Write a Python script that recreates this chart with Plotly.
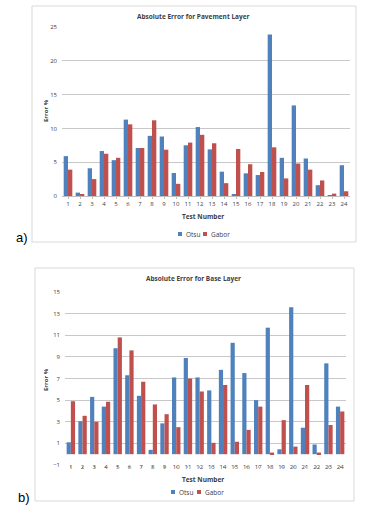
import plotly.graph_objects as go

tests = list(range(1, 25))

pave_otsu = [5.9, 0.5, 4.1, 6.65, 5.3, 11.3, 7.1, 8.9, 8.8, 3.4, 7.5, 10.2,
             6.9, 3.6, 0.25, 3.35, 3.1, 23.9, 5.65, 13.4, 5.55, 1.6, 0.05, 4.55]
pave_gabor = [3.9, 0.15, 2.5, 6.25, 5.65, 10.6, 7.1, 11.2, 6.85, 1.8, 7.9, 9.05,
              7.8, 1.9, 6.95, 4.7, 3.55, 7.2, 2.6, 4.8, 3.9, 2.3, 0.35, 0.7]

base_otsu = [1.1, 3.05, 5.3, 4.4, 9.8, 7.3, 5.4, 0.4, 2.85, 7.1, 8.9, 7.1,
             5.9, 7.8, 10.3, 7.5, 5.0, 11.7, 0.45, 13.6, 2.45, 0.9, 8.4, 4.4]
base_gabor = [4.9, 3.55, 3.0, 4.85, 10.8, 9.6, 6.7, 4.6, 3.7, 2.5, 7.0, 5.8,
              1.05, 6.4, 1.15, 2.25, 4.4, 0.15, 3.15, 0.7, 6.4, 0.15, 2.7, 3.95]

series_names = ["Otsu", "Gabor"]
titles = ["Absolute Error for Pavement Layer", "Absolute Error for Base Layer"]

BLUE = "#4f81bd"
RED = "#c0504d"
W, H = 385, 518
FONT = "Open Sans"
TXT = "#404040"

def px(x):
    return x / W

def py(y):
    return 1 - y / H

fig = go.Figure()
fig.add_trace(go.Bar(x=tests, y=pave_otsu, name=series_names[0], marker_color=BLUE,
                     xaxis="x", yaxis="y", marker_line_width=0, showlegend=False))
fig.add_trace(go.Bar(x=tests, y=pave_gabor, name=series_names[1], marker_color=RED,
                     xaxis="x", yaxis="y", marker_line_width=0, showlegend=False))
fig.add_trace(go.Bar(x=tests, y=base_otsu, name=series_names[0], marker_color=BLUE,
                     xaxis="x2", yaxis="y2", marker_line_width=0, showlegend=False))
fig.add_trace(go.Bar(x=tests, y=base_gabor, name=series_names[1], marker_color=RED,
                     xaxis="x2", yaxis="y2", marker_line_width=0, showlegend=False))

tickfont = dict(family=FONT, size=6, color=TXT)
grid = "#c8c8c8"

shapes = [
    dict(type="rect", xref="paper", yref="paper", x0=px(32), x1=px(356), y0=py(242), y1=py(6),
         line=dict(color="#d9d9d9", width=1), layer="below"),
    dict(type="rect", xref="paper", yref="paper", x0=px(35), x1=px(354), y0=py(501), y1=py(268),
         line=dict(color="#d9d9d9", width=1), layer="below"),
]

ann = []
def text(t, x, y, size=6.5, xanchor="center", **kw):
    d = dict(text=t, x=px(x), y=py(y), xref="paper", yref="paper", showarrow=False,
             xanchor=xanchor, yanchor="middle", font=dict(family=FONT, size=size, color=TXT))
    d.update(kw)
    ann.append(d)

text("<b>" + titles[0] + "</b>", 194, 16)
text("<b>" + titles[1] + "</b>", 194, 278)
text("<b>Test Number</b>", 203, 217)
text("<b>Test Number</b>", 203, 479)
text("<b>Error %</b>", 46, 111, size=6, textangle=-90)
text("<b>Error %</b>", 46, 380, size=6, textangle=-90)
ann.append(dict(text="a)", x=px(14), y=py(238), xref="paper", yref="paper", showarrow=False,
                xanchor="left", yanchor="middle", font=dict(family="Liberation Sans", size=13, color="black")))
ann.append(dict(text="b)", x=px(16), y=py(497), xref="paper", yref="paper", showarrow=False,
                xanchor="left", yanchor="middle", font=dict(family="Liberation Sans", size=13, color="black")))

# manual legends (small square markers + text)
def legend(xb, xr, y):
    for xs, col, name in ((xb, BLUE, series_names[0]), (xr, RED, series_names[1])):
        shapes.append(dict(type="rect", xref="paper", yref="paper", x0=px(xs - 2), x1=px(xs + 2),
                           y0=py(y + 2), y1=py(y - 2), fillcolor=col, line=dict(width=0)))
        text(name, xs + 3.5, y, size=6.5, xanchor="left")

legend(180, 205, 234)
legend(173, 199, 492)

fig.update_layout(
    width=W, height=H,
    margin=dict(l=0, r=0, t=0, b=0),
    paper_bgcolor="white", plot_bgcolor="white",
    barmode="group", bargap=0.28, bargroupgap=0.0,
    font=dict(family=FONT),
    showlegend=False,
    xaxis=dict(domain=[px(62), px(350)], anchor="y", range=[0.5, 24.5],
               tickvals=tests, ticktext=[str(t) for t in tests], tickfont=tickfont,
               showgrid=False, showline=True, linecolor="#bfbfbf", linewidth=1,
               ticks="outside", ticklen=2, tickcolor="#bfbfbf", zeroline=False,
               automargin=False),
    yaxis=dict(domain=[py(196), py(27)], anchor="x", range=[0, 25], dtick=5,
               tickfont=tickfont, showgrid=True, gridcolor=grid, gridwidth=1,
               zeroline=False, showline=False, ticks="", ticklabelstandoff=4,
               automargin=False),
    xaxis2=dict(domain=[px(65), px(346)], anchor="y2", range=[0.5, 24.5],
                tickvals=tests, ticktext=[str(t) for t in tests], tickfont=tickfont,
                showgrid=False, showline=False, ticks="outside", ticklen=2,
                tickcolor="#bfbfbf", zeroline=False, ticklabelstandoff=-6,
                automargin=False),
    yaxis2=dict(domain=[py(465), py(292)], anchor="x2", range=[-1, 15], tick0=-1, dtick=2,
                tickfont=tickfont, showgrid=True, gridcolor=grid, gridwidth=1,
                zeroline=False, showline=False, ticks="", ticklabelstandoff=4,
                automargin=False),
    shapes=shapes,
    annotations=ann,
)

fig.write_html("out.html", config={"displayModeBar": False},
               post_script="document.body.style.margin='0';")
